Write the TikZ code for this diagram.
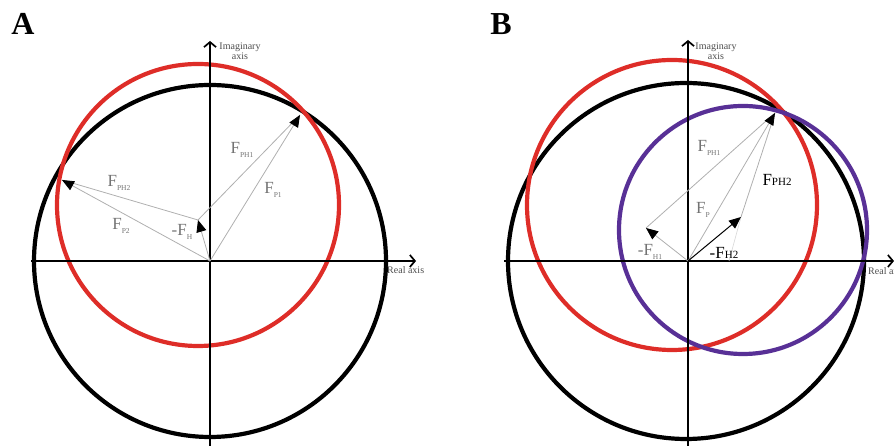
\documentclass[tikz,border=0pt]{standalone}
\usepackage{fontspec}
\setmainfont{Liberation Serif}
\usetikzlibrary{arrows.meta}
\definecolor{circred}{RGB}{222,45,40}
\definecolor{circpurple}{RGB}{88,48,150}
\definecolor{vecgray}{RGB}{175,175,175}
\definecolor{labgray}{RGB}{115,115,115}
\newcommand{\Flab}[1]{F\raisebox{-.45ex}{\fontsize{7.5}{8}\selectfont #1}}
\newcommand{\Fbig}[1]{F{\fontsize{11}{12}\selectfont #1}}

\begin{document}
\begin{tikzpicture}[x=1pt,y=1pt,
	circ/.style={line width=4.2pt},
	axis/.style={line width=1.7pt,-{Straight Barb[length=5pt,width=12pt]}},
	vec/.style={draw=vecgray,line width=0.8pt},
	tip/.style={-{Triangle[length=12pt,width=10pt,color=black]}},
	lab/.style={font=\fontsize{17}{18}\selectfont,text=labgray,inner sep=0pt},
	blab/.style={font=\fontsize{17}{18}\selectfont,inner sep=0pt},
	axlab/.style={font=\fontsize{10}{10.5}\selectfont,text=black!70,inner sep=0pt,align=center},
	panel/.style={font=\fontsize{32}{32}\selectfont\bfseries,inner sep=0pt}]
	\useasboundingbox (0,0) rectangle (894,446);
	
	%Panel Letters
	\node[panel] (labA) at (23,422) {A};
	\node[panel] (labB) at (501,422) {B};
	
	%Panel A
	\begin{scope}[shift={(210,185)}]
	%Circles
	\draw[circ] (0,0) circle[radius=176pt];
	\draw[circ,circred] (-12,56) circle[radius=141pt];
	%Axes
	\coordinate (A-xl) at (-179,0);
	\coordinate (A-xr) at (206,0);
	\coordinate (A-yb) at (0,-190);
	\coordinate (A-yt) at (0,220);
	\draw[axis] (A-xl) -- (A-xr);
	\draw[axis] (A-yb) -- (A-yt);
	\node[axlab] (A-im) at (30,210) {Imaginary\\axis};
	\node[axlab,anchor=west] (A-re) at (177,-9) {Real axis};
	%Vectors
	\coordinate (A-O) at (0,0);
	\coordinate (A-P1) at (90,146);
	\coordinate (A-P2) at (-148,81);
	\coordinate (A-H) at (-12,41);
	\draw[vec] (A-H) -- (A-P1);
	\draw[vec] (A-H) -- (A-P2);
	\draw[vec,tip] (A-O) -- (A-P1);
	\draw[vec,tip] (A-O) -- (A-P2);
	\draw[vec,tip] (A-O) -- (A-H);
	\node[lab] (A-fph1) at (32,111) {\Flab{PH1}};
	\node[lab] (A-fp1) at (63,71) {\Flab{P1}};
	\node[lab] (A-fph2) at (-91,78) {\Flab{PH2}};
	\node[lab] (A-fp2) at (-89,35) {\Flab{P2}};
	\node[lab] (A-fh) at (-28,29) {-\Flab{H}};
	\end{scope}
	
	%Panel B
	\begin{scope}[shift={(688,185)}]
	%Circles
	\draw[circ] (-2,0) circle[radius=178pt];
	\draw[circ,circred] (-16,56) circle[radius=145pt];
	\draw[circ,circpurple] (55,31) circle[radius=124pt];
	%Axes
	\coordinate (B-xl) at (-184,0);
	\coordinate (B-xr) at (206,0);
	\coordinate (B-yb) at (0,-190);
	\coordinate (B-yt) at (0,221);
	\draw[axis] (B-xl) -- (B-xr);
	\draw[axis] (B-yb) -- (B-yt);
	\node[axlab] (B-im) at (28,210) {Imaginary\\axis};
	\node[axlab,anchor=west] (B-re) at (180,-10) {Real axis};
	%Vectors
	\coordinate (B-O) at (0,0);
	\coordinate (B-P) at (87,148);
	\coordinate (B-H1) at (-42,33);
	\coordinate (B-H2) at (53,44);
	\coordinate (B-ax) at (41,0);
	\draw[draw=vecgray!50,line width=0.6pt] (B-H2) -- (B-ax);
	\draw[vec] (B-H1) -- (B-P);
	\draw[vec] (B-H2) -- (B-P);
	\draw[vec,tip] (B-O) -- (B-P);
	\draw[vec,tip] (B-O) -- (B-H1);
	\draw[line width=1pt,tip] (B-O) -- (B-H2);
	\node[lab] (B-fph1) at (21,113) {\Flab{PH1}};
	\node[lab] (B-fp) at (15,51) {\Flab{P}};
	\node[blab] (B-fph2) at (89,81) {\Fbig{PH2}};
	\node[lab] (B-fh1) at (-38,9) {-\Flab{H1}};
	\node[blab] (B-fh2) at (36,8) {-\Fbig{H2}};
	\end{scope}
\end{tikzpicture}
\end{document}
